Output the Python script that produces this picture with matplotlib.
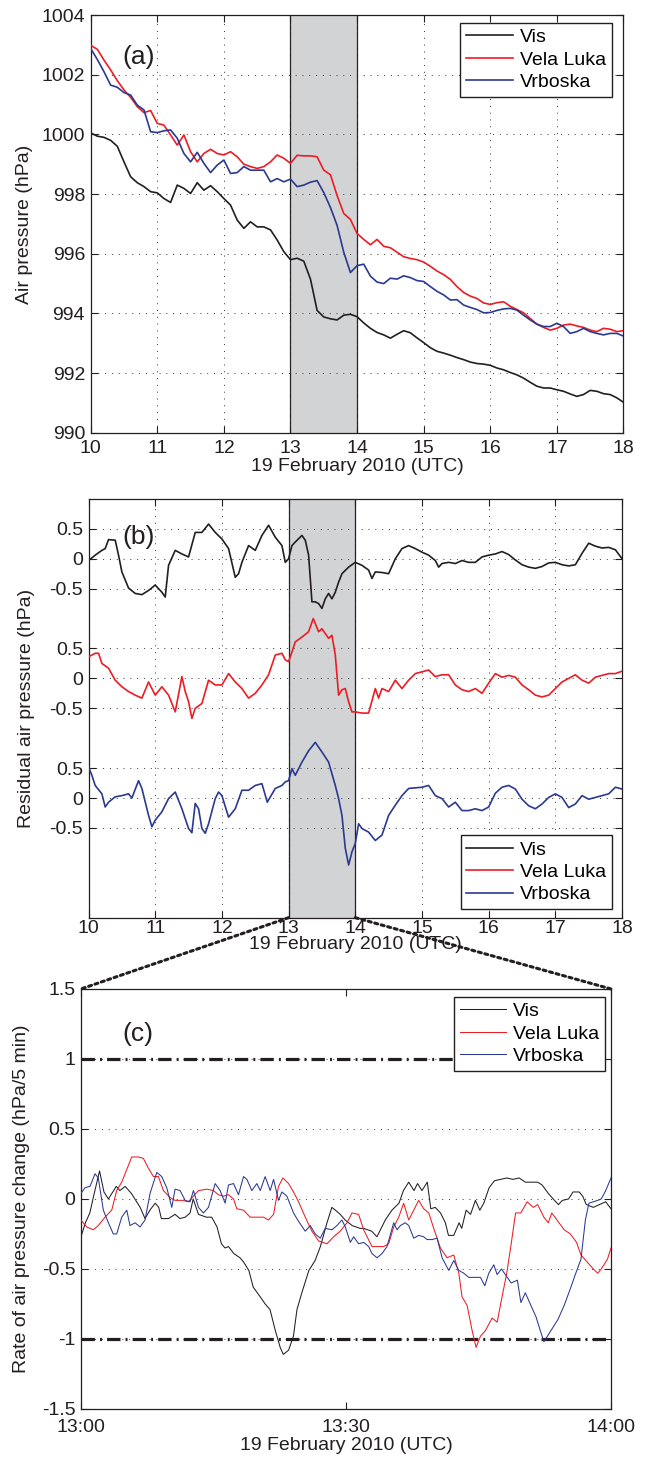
import numpy as np
import matplotlib
matplotlib.use("Agg")
import matplotlib.pyplot as plt
from matplotlib.patches import ConnectionPatch
from matplotlib.ticker import FuncFormatter

plt.rcParams['font.family'] = ['Liberation Sans', 'DejaVu Sans']

# ---------------- data ----------------
stations = ['Vis', 'Vela Luka', 'Vrboska']
colors = ['#231F20', '#ED1C24', '#2B3990']

# Panel (a): air pressure (hPa), every 0.1 h from 10 to 18 UTC
hours_a = np.round(np.arange(10.0, 18.0001, 0.1), 1)
vis_a = [1000.05, 999.94, 999.9, 999.8, 999.6, 999.08, 998.58, 998.38, 998.25, 998.08,
         998.04, 997.85, 997.72, 998.3, 998.19, 998.02, 998.38, 998.13, 998.28, 998.08,
         997.85, 997.63, 997.13, 996.85, 997.07, 996.9, 996.9, 996.8, 996.46, 996.07,
         995.8, 995.85, 995.75, 995.15, 994.1, 993.88, 993.82, 993.78, 993.94, 993.97,
         993.89, 993.68, 993.5, 993.36, 993.28, 993.17, 993.3, 993.42, 993.35, 993.18,
         993.02, 992.85, 992.73, 992.67, 992.6, 992.52, 992.45, 992.37, 992.32, 992.3,
         992.26, 992.17, 992.11, 992.02, 991.94, 991.83, 991.69, 991.56, 991.5, 991.5,
         991.44, 991.39, 991.3, 991.22, 991.28, 991.42, 991.39, 991.31, 991.28, 991.17,
         991.02]
velaluka_a = [1002.99, 1002.85, 1002.49, 1002.16, 1001.8, 1001.49, 1001.24, 1000.93, 1000.73, 1000.8,
              1000.37, 1000.31, 999.98, 999.64, 999.98, 999.42, 999.08, 999.36, 999.5, 999.36,
              999.31, 999.42, 999.25, 999.0, 998.92, 998.86, 998.92, 999.08, 999.31, 999.2,
              999.03, 999.3, 999.28, 999.28, 999.25, 998.8, 998.65, 997.95, 997.35, 997.15,
              996.68, 996.48, 996.3, 996.48, 996.25, 996.2, 996.05, 995.9, 995.84, 995.8,
              995.72, 995.58, 995.42, 995.3, 995.14, 994.9, 994.7, 994.58, 994.5, 994.35,
              994.3, 994.36, 994.39, 994.24, 994.13, 994.02, 993.83, 993.64, 993.53, 993.44,
              993.5, 993.61, 993.64, 993.58, 993.53, 993.44, 993.39, 993.5, 993.47, 993.39,
              993.42]
vrboska_a = [1002.88, 1002.51, 1002.1, 1001.65, 1001.58, 1001.4, 1001.32, 1000.98, 1000.82, 1000.09,
             1000.06, 1000.12, 1000.15, 999.87, 999.36, 999.08, 999.4, 999.03, 998.72, 998.97,
             999.14, 998.69, 998.72, 998.92, 998.8, 998.8, 998.8, 998.41, 998.52, 998.41,
             998.5, 998.25, 998.3, 998.4, 998.45, 998.05, 997.55, 996.95, 996.05, 995.37,
             995.6, 995.65, 995.25, 995.05, 995.0, 995.18, 995.15, 995.26, 995.2, 995.1,
             995.07, 994.9, 994.74, 994.62, 994.45, 994.46, 994.28, 994.2, 994.13, 994.02,
             994.03, 994.1, 994.15, 994.17, 994.11, 993.94, 993.78, 993.64, 993.56, 993.56,
             993.67, 993.56, 993.33, 993.39, 993.5, 993.39, 993.33, 993.28, 993.33, 993.33,
             993.24]

# Panel (b): residual air pressure (hPa); stations stacked with offsets
offsets_b = [0.0, -2.0, -4.0]
vis_b_t = [10.0, 10.1, 10.2, 10.25, 10.3, 10.4, 10.45, 10.5, 10.6, 10.7, 10.8, 10.9, 11.0, 11.1,
           11.15, 11.2, 11.3, 11.4, 11.5, 11.6, 11.7, 11.8, 11.9, 12.0, 12.1, 12.2, 12.25, 12.3,
           12.4, 12.5, 12.6, 12.7, 12.8, 12.9, 12.95, 13.0, 13.05, 13.1, 13.2, 13.25, 13.3, 13.35,
           13.4, 13.45, 13.5, 13.55, 13.6, 13.65, 13.7, 13.75, 13.8, 13.9, 14.0, 14.1, 14.2, 14.25,
           14.3, 14.4, 14.5, 14.6, 14.7, 14.8, 14.9, 15.0, 15.1, 15.2, 15.25, 15.3, 15.4, 15.5,
           15.6, 15.7, 15.8, 15.9, 16.0, 16.1, 16.2, 16.3, 16.4, 16.5, 16.6, 16.7, 16.8, 16.9,
           17.0, 17.1, 17.2, 17.3, 17.4, 17.5, 17.6, 17.7, 17.8, 17.9, 18.0]
vis_b = [-0.03, 0.06, 0.14, 0.17, 0.32, 0.31, 0.06, -0.22, -0.49, -0.58, -0.6, -0.53, -0.44, -0.56,
         -0.64, -0.11, 0.14, 0.08, 0.03, 0.44, 0.44, 0.58, 0.44, 0.33, 0.17, -0.31, -0.25, -0.06,
         0.22, 0.14, 0.39, 0.56, 0.36, 0.22, -0.06, 0.0, 0.22, 0.28, 0.39, 0.31, 0.06, -0.72,
         -0.72, -0.75, -0.83, -0.67, -0.58, -0.67, -0.56, -0.39, -0.25, -0.14, -0.06, -0.11, -0.19, -0.33,
         -0.22, -0.23, -0.25, 0.0, 0.17, 0.22, 0.17, 0.11, 0.06, -0.03, -0.14, -0.08, -0.06, -0.08,
         -0.03, -0.06, -0.06, 0.03, 0.06, 0.08, 0.12, 0.07, -0.02, -0.1, -0.14, -0.16, -0.13, -0.07,
         -0.06, -0.1, -0.12, -0.1, 0.09, 0.26, 0.21, 0.18, 0.19, 0.15, 0.0]
velaluka_b_t = [10.0, 10.1, 10.15, 10.2, 10.3, 10.4, 10.5, 10.6, 10.7, 10.8, 10.9, 11.0, 11.1, 11.2,
                11.3, 11.4, 11.45, 11.5, 11.55, 11.6, 11.7, 11.8, 11.9, 12.0, 12.1, 12.2, 12.3, 12.4,
                12.5, 12.6, 12.7, 12.8, 12.9, 12.95, 13.0, 13.05, 13.1, 13.2, 13.3, 13.37, 13.45, 13.5,
                13.6, 13.65, 13.7, 13.75, 13.8, 13.85, 13.9, 13.95, 14.0, 14.1, 14.2, 14.3, 14.35, 14.4,
                14.5, 14.6, 14.7, 14.8, 14.9, 15.0, 15.1, 15.2, 15.3, 15.4, 15.5, 15.6, 15.7, 15.8,
                15.9, 16.0, 16.1, 16.2, 16.3, 16.4, 16.5, 16.6, 16.7, 16.8, 16.9, 17.0, 17.1, 17.2,
                17.3, 17.4, 17.5, 17.6, 17.7, 17.8, 17.9, 18.0]
velaluka_b = [0.36, 0.42, 0.42, 0.25, 0.17, -0.03, -0.14, -0.22, -0.28, -0.33, -0.06, -0.28, -0.14, -0.28,
              -0.56, 0.03, -0.22, -0.39, -0.67, -0.5, -0.42, -0.03, -0.11, -0.11, 0.08, -0.06, -0.17, -0.33,
              -0.25, -0.11, 0.06, 0.39, 0.42, 0.31, 0.28, 0.44, 0.61, 0.69, 0.78, 1.0, 0.78, 0.83,
              0.67, 0.72, 0.39, -0.28, -0.19, -0.17, -0.39, -0.56, -0.56, -0.58, -0.58, -0.17, -0.33, -0.17,
              -0.22, -0.03, -0.17, -0.03, 0.08, 0.11, 0.14, 0.03, 0.06, 0.06, -0.11, -0.19, -0.22, -0.17,
              -0.25, -0.08, 0.08, 0.02, 0.05, 0.02, -0.11, -0.19, -0.28, -0.31, -0.28, -0.17, -0.06, 0.0,
              0.06, -0.03, -0.08, 0.02, 0.05, 0.08, 0.08, 0.12]
vrboska_b_t = [10.0, 10.05, 10.1, 10.2, 10.25, 10.3, 10.4, 10.5, 10.6, 10.65, 10.75, 10.8, 10.9, 10.95,
               11.0, 11.1, 11.2, 11.3, 11.4, 11.5, 11.55, 11.6, 11.65, 11.7, 11.75, 11.8, 11.9, 11.95,
               12.0, 12.1, 12.2, 12.3, 12.4, 12.5, 12.6, 12.68, 12.8, 12.9, 12.95, 13.0, 13.05, 13.1,
               13.2, 13.3, 13.4, 13.45, 13.5, 13.6, 13.7, 13.75, 13.8, 13.85, 13.9, 13.95, 14.0, 14.05,
               14.1, 14.2, 14.3, 14.4, 14.5, 14.6, 14.7, 14.8, 14.9, 15.0, 15.1, 15.2, 15.3, 15.4,
               15.5, 15.6, 15.7, 15.8, 15.9, 16.0, 16.1, 16.2, 16.3, 16.4, 16.5, 16.6, 16.7, 16.8,
               16.9, 17.0, 17.1, 17.2, 17.3, 17.4, 17.5, 17.6, 17.7, 17.8, 17.9, 18.0]
vrboska_b = [0.52, 0.38, 0.21, 0.07, -0.15, -0.07, 0.02, 0.04, 0.07, 0.0, 0.29, 0.16, -0.29, -0.48,
             -0.37, -0.23, -0.01, 0.1, -0.18, -0.51, -0.58, -0.09, -0.18, -0.51, -0.59, -0.43, -0.01, 0.1,
             0.04, -0.32, -0.18, 0.13, 0.13, 0.21, 0.24, -0.07, 0.16, 0.21, 0.27, 0.29, 0.49, 0.38,
             0.6, 0.79, 0.93, 0.85, 0.77, 0.6, 0.21, -0.01, -0.29, -0.84, -1.12, -0.9, -0.76, -0.43,
             -0.51, -0.57, -0.71, -0.62, -0.29, -0.12, 0.04, 0.16, 0.17, 0.18, 0.21, 0.04, -0.01, -0.15,
             -0.07, -0.21, -0.21, -0.18, -0.21, -0.15, 0.08, 0.18, 0.21, 0.15, -0.02, -0.13, -0.18, -0.1,
             0.01, 0.07, 0.01, -0.16, -0.1, 0.04, -0.02, 0.01, 0.04, 0.07, 0.18, 0.15]

# Panel (c): rate of pressure change (hPa / 5 min); minutes after 13:00 UTC
vis_c_t = [0.0, 0.5, 1.0, 1.5, 2.1, 2.6, 3.1, 4.0, 4.4, 5.0, 5.7, 6.7, 7.25, 7.8, 8.4, 8.8, 9.1, 9.9,
           10.65, 11.2, 11.8, 12.35, 12.7, 13.3, 14.2, 14.8, 15.4, 15.9, 16.3, 16.7, 17.3, 18.0, 18.4,
           19.0, 19.5, 20.3, 20.85, 21.4, 22.0, 22.55, 22.9, 23.5, 24.05, 24.45, 25.0, 25.8, 26.5,
           27.1, 27.85, 28.4, 28.8, 29.35, 29.9, 30.7, 31.6, 32.0, 32.9, 33.5, 33.9, 34.45, 35.2,
           36.0, 36.5, 37.1, 37.7, 38.1, 38.6, 39.2, 39.6, 40.1, 40.7, 41.25, 41.6, 42.2, 42.8,
           43.1, 43.6, 44.1, 44.65, 45.15, 45.6, 46.2, 46.8, 47.5, 48.2, 48.9, 49.6, 50.3, 51.0,
           51.7, 52.2, 52.9, 53.6, 54.05, 54.5, 55.2, 55.7, 56.4, 56.8, 57.2, 58.0, 58.7, 59.4, 60.0]
vis_c = [-0.27, -0.17, -0.1, 0.04, 0.2, 0.05, 0.0, 0.09, 0.06, 0.09, 0.04, -0.06, -0.14, -0.08,
         -0.03, -0.06, -0.14, -0.14, -0.11, -0.14, -0.13, -0.1, 0.0, -0.11, -0.13, -0.13, -0.2, -0.32,
         -0.35, -0.34, -0.39, -0.42, -0.45, -0.51, -0.63, -0.7, -0.75, -0.79, -0.94, -1.06, -1.11,
         -1.08, -0.98, -0.79, -0.67, -0.51, -0.44, -0.34, -0.17, -0.06, -0.08, -0.11, -0.15, -0.19,
         -0.21, -0.21, -0.23, -0.27, -0.22, -0.15, -0.08, -0.03, 0.06, 0.12, 0.06, 0.11, 0.06, 0.12,
         -0.07, -0.06, -0.1, -0.17, -0.26, -0.26, -0.17, -0.21, -0.08, -0.11, -0.01, -0.08, -0.03,
         0.08, 0.13, 0.14, 0.15, 0.14, 0.15, 0.12, 0.12, 0.12, 0.1, 0.04, -0.01, -0.04, -0.01, 0.0,
         0.05, 0.05, 0.02, -0.04, -0.06, -0.04, -0.02, -0.07]
velaluka_c_t = [0.0, 0.64, 1.4, 1.96, 2.72, 3.48, 4.04, 4.61, 5.18, 5.74, 6.5, 7.06, 7.63, 8.2, 8.76,
                9.33, 10.09, 10.65, 11.41, 12.16, 12.73, 13.3, 14.24, 14.99, 15.56, 16.13, 16.7, 17.27,
                17.64, 18.4, 19.15, 19.91, 20.67, 21.23, 21.8, 22.36, 22.86, 23.5, 24.06, 24.63, 25.39,
                26.14, 26.9, 27.84, 28.6, 29.35, 30.11, 30.68, 31.43, 32.0, 32.94, 33.7, 34.26, 34.83,
                35.4, 35.97, 36.53, 37.1, 37.67, 38.23, 38.8, 39.37, 39.93, 40.69, 41.44, 42.2, 42.77,
                43.14, 43.71, 44.28, 44.73, 45.22, 45.79, 46.54, 47.11, 47.6, 48.2, 48.7, 49.2, 49.8,
                50.5, 51.2, 51.7, 52.4, 52.9, 53.3, 54.0, 54.7, 55.4, 56.1, 56.6, 57.3, 58.0, 58.5,
                58.9, 59.6, 60.0]
velaluka_c = [-0.15, -0.2, -0.22, -0.19, -0.13, -0.08, 0.06, 0.12, 0.21, 0.3, 0.3, 0.29, 0.22, 0.16,
              0.16, 0.06, 0.01, -0.01, -0.01, -0.02, 0.02, 0.06, 0.07, 0.06, 0.03, 0.02, 0.03, 0.0,
              -0.07, -0.08, -0.13, -0.13, -0.13, -0.15, -0.11, 0.09, 0.15, 0.11, 0.05, -0.02, -0.13,
              -0.23, -0.3, -0.32, -0.27, -0.23, -0.17, -0.1, -0.11, -0.22, -0.34, -0.34, -0.34, -0.32,
              -0.2, -0.13, -0.03, -0.15, -0.08, -0.01, -0.07, -0.1, -0.21, -0.35, -0.42, -0.4, -0.53,
              -0.7, -0.76, -0.94, -1.06, -0.98, -0.94, -0.85, -0.88, -0.72, -0.53, -0.32, -0.1, -0.1,
              -0.02, -0.06, -0.04, -0.13, -0.17, -0.1, -0.16, -0.22, -0.25, -0.31, -0.4, -0.45, -0.5,
              -0.53, -0.5, -0.43, -0.35]
vrboska_c_t = [0.0, 0.45, 1.02, 1.59, 1.96, 2.53, 3.1, 3.66, 4.04, 4.61, 5.18, 5.55, 6.12, 6.69, 7.25,
               7.82, 8.58, 9.14, 9.71, 10.28, 10.65, 11.22, 11.79, 12.35, 12.73, 13.3, 13.86, 14.43,
               15.19, 15.75, 16.32, 16.7, 17.27, 17.83, 18.4, 18.78, 19.34, 19.91, 20.29, 20.85, 21.42,
               21.8, 22.36, 22.74, 23.31, 24.06, 24.63, 25.39, 25.95, 26.52, 27.09, 27.65, 28.41, 28.98,
               29.54, 29.92, 30.49, 30.87, 31.43, 32.0, 32.57, 32.94, 33.51, 34.08, 34.64, 35.4, 35.78,
               36.15, 36.72, 37.1, 37.67, 38.23, 38.8, 39.18, 39.74, 40.31, 40.88, 41.63, 42.2, 42.77,
               43.33, 43.9, 44.65, 45.22, 45.71, 46.17, 46.73, 47.11, 47.6, 48.7, 49.4, 49.8, 50.3,
               51.0, 51.5, 52.4, 53.3, 54.0, 54.7, 55.4, 55.9, 56.6, 57.1, 57.5, 58.5, 58.9, 59.4, 60.0]
vrboska_c = [0.04, 0.08, 0.09, 0.18, 0.15, -0.08, -0.17, -0.25, -0.25, -0.13, -0.08, -0.19, -0.17,
             -0.2, -0.15, 0.04, 0.19, 0.16, 0.08, -0.06, 0.07, 0.06, -0.01, -0.02, 0.06, -0.06, -0.1,
             -0.06, 0.11, 0.06, -0.03, 0.1, 0.11, 0.03, 0.16, 0.14, 0.06, 0.11, 0.06, 0.16, 0.06, 0.14,
             -0.01, 0.05, 0.02, -0.1, -0.16, -0.23, -0.19, -0.25, -0.28, -0.21, -0.22, -0.19, -0.15,
             -0.2, -0.31, -0.27, -0.32, -0.31, -0.34, -0.39, -0.42, -0.39, -0.34, -0.17, -0.22, -0.19,
             -0.17, -0.19, -0.28, -0.26, -0.27, -0.29, -0.29, -0.28, -0.42, -0.51, -0.44, -0.51, -0.53,
             -0.56, -0.56, -0.56, -0.62, -0.53, -0.47, -0.54, -0.5, -0.6, -0.58, -0.74, -0.67, -0.77,
             -0.84, -1.02, -0.93, -0.86, -0.76, -0.64, -0.55, -0.43, -0.15, -0.03, -0.01, 0.0, 0.06, 0.15]

threshold_c = [1.0, -1.0]
event_window = [13, 14]

# ---------------- figure ----------------
fig = plt.figure(figsize=(6.5, 14.61), dpi=100)
FS = 14
TXT = '#231F20'
GRID = dict(color='#333333', linestyle=(0, (1, 6)), linewidth=0.7)

def style_axes(ax, xpad=2):
    ax.tick_params(direction='in', length=5, width=0.8, top=True, right=True,
                   labelsize=FS, colors=TXT)
    ax.tick_params(axis='x', pad=xpad)
    ax.tick_params(axis='y', pad=4)
    for s in ax.spines.values():
        s.set_linewidth(0.9)
        s.set_color('#231F20')

def shade(ax):
    ax.axvspan(event_window[0], event_window[1], color='#D1D3D4', zorder=0.5, lw=0)
    for xv in event_window:
        ax.axvline(xv, color='#231F20', lw=0.9, zorder=1)

LEG = dict(fontsize=FS, handlelength=2.4, handletextpad=0.35, labelspacing=0.25,
           borderpad=0.3, fancybox=False, framealpha=1, edgecolor='#231F20', borderaxespad=0)

# (a)
ax_a = fig.add_axes([0.1395, 0.7038, 0.8197, 0.2859])
shade(ax_a)
for vals, c, lab in zip([vis_a, velaluka_a, vrboska_a], colors, stations):
    ax_a.plot(hours_a, vals, color=c, lw=1.2, label=lab, zorder=3)
ax_a.set_xlim(10, 18)
ax_a.set_ylim(990, 1004)
ax_a.set_xticks(range(10, 19))
ax_a.set_yticks(range(990, 1005, 2))
ax_a.grid(True, **GRID)
style_axes(ax_a, xpad=5)
ax_a.set_xlabel('19 February 2010 (UTC)', fontsize=FS, color=TXT, labelpad=1)
ax_a.set_ylabel('Air pressure (hPa)', fontsize=FS, color=TXT)
ax_a.yaxis.set_label_coords(-0.108, 0.5)
ax_a.text(10.47, 1002.58, '(a)', fontsize=19, color=TXT, ha='left', va='center')
leg = ax_a.legend(loc='upper right', bbox_to_anchor=(0.978, 0.9816), **LEG)
leg.get_frame().set_linewidth(1.0)

# (b)
ax_b = fig.add_axes([0.1362, 0.3719, 0.8208, 0.2866])
shade(ax_b)
series_b = [(vis_b_t, vis_b), (velaluka_b_t, velaluka_b), (vrboska_b_t, vrboska_b)]
for (t, v), off, c, lab in zip(series_b, offsets_b, colors, stations):
    ax_b.plot(t, np.asarray(v) + off, color=c, lw=1.2, label=lab, zorder=3)
ax_b.set_xlim(10, 18)
ax_b.set_ylim(-6, 1)
ax_b.set_xticks(range(10, 19))
yt, yl = [], []
for off in offsets_b:
    for r in (-0.5, 0.0, 0.5):
        yt.append(off + r)
        yl.append('%g' % r)
ax_b.set_yticks(yt)
ax_b.set_yticklabels(yl)
ax_b.grid(True, **GRID)
style_axes(ax_b)
ax_b.set_xlabel('19 February 2010 (UTC)', fontsize=FS, color=TXT, labelpad=-1)
ax_b.set_ylabel('Residual air pressure (hPa)', fontsize=FS, color=TXT)
ax_b.yaxis.set_label_coords(-0.100, 0.5)
ax_b.text(10.5, 0.363, '(b)', fontsize=19, color=TXT, ha='left', va='center')
leg = ax_b.legend(loc='lower right', bbox_to_anchor=(0.981, 0.02), **LEG)
leg.get_frame().set_linewidth(1.0)

# (c)
ax_c = fig.add_axes([0.1246, 0.0356, 0.8154, 0.2875])
series_c = [(vis_c_t, vis_c), (velaluka_c_t, velaluka_c), (vrboska_c_t, vrboska_c)]
for (t, v), c, lab in zip(series_c, colors, stations):
    ax_c.plot(t, v, color=c, lw=0.75, label=lab, zorder=3)
for th in threshold_c:
    ax_c.axhline(th, color='#231F20', lw=2.3, linestyle=(0, (4.2, 1.6, 0.6, 1.6)), zorder=2.5)
ax_c.set_xlim(0, 60)
ax_c.set_ylim(-1.5, 1.5)
ax_c.set_xticks([0, 30, 60])
ax_c.set_xticklabels(['13:00', '13:30', '14:00'])
ax_c.set_yticks(np.arange(-1.5, 1.51, 0.5))
ax_c.yaxis.set_major_formatter(FuncFormatter(lambda v, p: '%g' % round(v, 2)))
ax_c.grid(True, axis='y', **GRID)
style_axes(ax_c, xpad=7)
ax_c.set_xlabel('19 February 2010 (UTC)', fontsize=FS, color=TXT, labelpad=1)
ax_c.set_ylabel('Rate of air pressure change (hPa/5 min)', fontsize=FS, color=TXT)
ax_c.yaxis.set_label_coords(-0.096, 0.5)
ax_c.text(4.73, 1.18, '(c)', fontsize=19, color=TXT, ha='left', va='center')
leg = ax_c.legend(loc='upper right', bbox_to_anchor=(0.989, 0.9817), **LEG)
leg.get_frame().set_linewidth(1.0)

# zoom connectors from panel (b) window to panel (c)
for xb, xc in zip(event_window, [0, 60]):
    con = ConnectionPatch(xyA=(xb, -6), coordsA=ax_b.transData,
                          xyB=(xc, 1.5), coordsB=ax_c.transData,
                          linestyle=(0, (1, 1.2)), lw=2.2, color='#231F20', zorder=5)
    fig.add_artist(con)

fig.savefig('out.png', dpi=100)
